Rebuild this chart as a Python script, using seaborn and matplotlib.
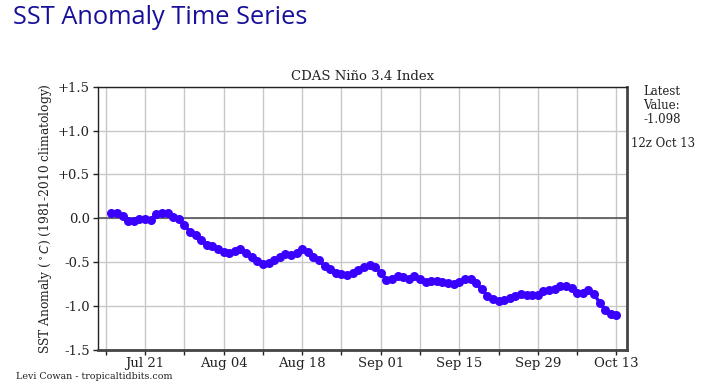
import pandas as pd
import matplotlib
matplotlib.use("Agg")
import matplotlib.pyplot as plt
import seaborn as sns

# Data: daily CDAS Nino 3.4 SST anomaly (deg C), Jul 15 - Oct 13
start_date = "2022-07-15"
anomaly = [
    0.06, 0.06, 0.03, -0.03, -0.03, -0.01, -0.01, -0.02, 0.05, 0.06,   # Jul 15-24
    0.06, 0.01, -0.01, -0.08, -0.15, -0.19, -0.25, -0.30, -0.32, -0.35,  # Jul 25-Aug 3
    -0.38, -0.39, -0.37, -0.35, -0.39, -0.44, -0.49, -0.52, -0.51, -0.47,  # Aug 4-13
    -0.44, -0.41, -0.42, -0.40, -0.35, -0.38, -0.44, -0.48, -0.54, -0.58,  # Aug 14-23
    -0.62, -0.63, -0.64, -0.62, -0.59, -0.55, -0.53, -0.56, -0.62, -0.70,  # Aug 24-Sep 2
    -0.69, -0.66, -0.67, -0.69, -0.66, -0.69, -0.72, -0.71, -0.71, -0.73,  # Sep 3-12
    -0.74, -0.75, -0.72, -0.69, -0.69, -0.74, -0.81, -0.88, -0.92, -0.94,  # Sep 13-22
    -0.93, -0.91, -0.88, -0.86, -0.87, -0.87, -0.87, -0.83, -0.82, -0.80,  # Sep 23-Oct 2
    -0.77, -0.77, -0.79, -0.845, -0.85, -0.82, -0.86, -0.96, -1.04, -1.09,  # Oct 3-12
    -1.098,                                                               # Oct 13
]
dates = pd.date_range(start_date, periods=len(anomaly), freq="D")
df = pd.DataFrame({"date": dates, "anomaly": anomaly})

y_ticks = [1.5, 1.0, 0.5, 0.0, -0.5, -1.0, -1.5]
y_labels = ["+1.5", "+1.0", "+0.5", "0.0", "-0.5", "-1.0", "-1.5"]
major_dates = pd.date_range("2022-07-21", "2022-10-13", freq="14D")
minor_dates = pd.date_range("2022-07-14", "2022-10-13", freq="7D")
x_labels = ["Jul 21", "Aug 04", "Aug 18", "Sep 01", "Sep 15", "Sep 29", "Oct 13"]

sns.set_style("ticks")
plt.rcParams["font.family"] = ["DejaVu Serif"]

fig = plt.figure(figsize=(7.23, 3.87), dpi=100)
ax = fig.add_axes([0.136, 0.0956, 0.7308, 0.6804])

# grid lines (every 7 days, every 0.5)
for d in minor_dates:
    ax.axvline(d, color="#c8c8c8", lw=1.0, zorder=0)
for y in y_ticks:
    ax.axhline(y, color="#c8c8c8", lw=1.0, zorder=0)
ax.axhline(0, color="#555555", lw=1.2, zorder=1)

sns.lineplot(data=df, x="date", y="anomaly", ax=ax, color="#3a00ff",
             lw=2.5, marker="o", markersize=6.5, markeredgewidth=0,
             zorder=3)

ax.set_xlim(pd.Timestamp("2022-07-12 16:00"), pd.Timestamp("2022-10-14 20:00"))
ax.set_ylim(-1.5, 1.5)
ax.set_yticks(y_ticks)
ax.set_yticklabels(y_labels)
ax.set_xticks(major_dates)
ax.set_xticklabels(x_labels)
ax.set_xticks([d for d in minor_dates if d not in major_dates], minor=True)
ax.tick_params(axis="both", which="both", direction="out", labelsize=9.5,
               colors="#222222", length=3.5, width=1, pad=2.5)
ax.tick_params(axis="x", pad=1.5)
ax.set_xlabel("")
ax.set_ylabel("SST Anomaly ($^\\circ C$) (1981-2010 climatology)",
              fontsize=8.8, color="#222222", labelpad=3)
ax.set_title("CDAS Niño 3.4 Index", fontsize=9.5, color="#222222", pad=5)

for side in ["left", "top"]:
    ax.spines[side].set_color("#222222")
    ax.spines[side].set_linewidth(1.0)
for side in ["right", "bottom"]:
    ax.spines[side].set_color("#444444")
    ax.spines[side].set_linewidth(2.0)

fig.text(0.018, 0.955, "SST Anomaly Time Series", fontsize=18.3,
         color="#18109a", family=["Open Sans", "DejaVu Sans"], va="center")
fig.text(0.89, 0.78, "Latest\nValue:\n-1.098", fontsize=8.5, color="#222222",
         va="top", ha="left", linespacing=1.1)
fig.text(0.873, 0.63, "12z Oct 13", fontsize=8.5, color="#222222",
         va="center", ha="left")
fig.text(0.022, 0.026, "Levi Cowan - tropicaltidbits.com", fontsize=6.8,
         color="#222222", va="center", ha="left")

fig.savefig("out.png", dpi=100)
